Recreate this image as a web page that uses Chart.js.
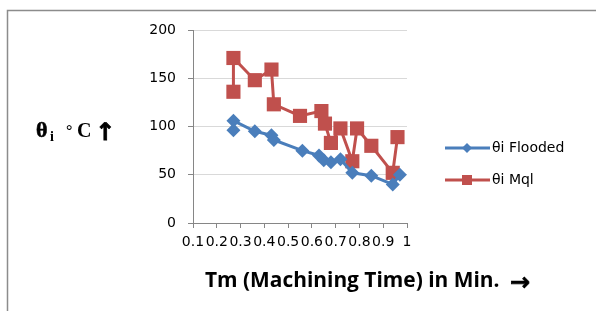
<!DOCTYPE html>
<html>
<head>
<meta charset="utf-8">
<script src="https://cdn.jsdelivr.net/npm/chart.js@4/dist/chart.umd.min.js"></script>
<style>
  html, body { margin: 0; padding: 0; background: #fff; }
  #wrap { width: 596px; height: 311px; position: relative; }
</style>
</head>
<body>
<div id="wrap"><canvas id="chart" width="596" height="311"></canvas></div>
<script>
// Values
const floodedX = [0.27, 0.27, 0.36, 0.43, 0.44, 0.56, 0.63, 0.65, 0.68, 0.72, 0.77, 0.85, 0.94, 0.97];
const floodedY = [96, 106, 95, 91, 86, 75, 70, 65, 63, 66, 52, 49, 40, 50];
const mqlX = [0.27, 0.27, 0.36, 0.43, 0.44, 0.55, 0.64, 0.655, 0.68, 0.72, 0.77, 0.79, 0.85, 0.94, 0.96];
const mqlY = [136, 171, 148, 159, 123, 111, 116, 103, 83, 98, 64, 98, 80, 52, 89];
const seriesNames = ['\u03b8i Flooded', '\u03b8i Mql'];
const xTitle = 'Tm (Machining Time) in Min.';

const BLUE = '#4a7ebb';
const RED = '#c0504d';
const TICK_FONT = { family: 'DejaVu Sans', size: 14 };

function toPoints(xs, ys) {
  return xs.map((x, i) => ({ x: x, y: ys[i] }));
}

// bold text drawn a touch heavier
function heavyText(ctx, text, x, y, extra) {
  ctx.fillText(text, x, y);
  ctx.lineWidth = extra;
  ctx.strokeStyle = ctx.fillStyle;
  ctx.strokeText(text, x, y);
}

// frame, axis titles and legend drawn on the canvas
const decorations = {
  id: 'decorations',
  beforeDraw(chart) {
    const ctx = chart.ctx;
    ctx.save();
    ctx.strokeStyle = '#8c8c8c';
    ctx.lineWidth = 1.5;
    ctx.beginPath();
    ctx.moveTo(7.5, 311);
    ctx.lineTo(7.5, 10.5);
    ctx.lineTo(596, 10.5);
    ctx.stroke();
    ctx.restore();
  },
  afterDraw(chart) {
    const ctx = chart.ctx;
    ctx.save();
    ctx.fillStyle = '#000';
    ctx.textBaseline = 'alphabetic';

    // y title: theta_i ° C ↑
    ctx.font = 'bold 22px "Liberation Serif"';
    heavyText(ctx, '\u03b8', 36, 137, 0.6);
    ctx.font = 'bold 14px "Liberation Serif"';
    ctx.fillText('i', 50, 141);
    ctx.font = 'bold 16px "Liberation Serif"';
    ctx.fillText('\u00b0', 66, 136);
    ctx.font = 'bold 20px "Liberation Serif"';
    ctx.fillText('C', 77, 137);
    ctx.font = 'bold 24px "DejaVu Sans"';
    heavyText(ctx, '\u2191', 95, 140, 0.8);

    // x title
    let size = 17;
    ctx.font = 'bold ' + size + 'px "Open Sans"';
    const w = ctx.measureText(xTitle).width;
    size = size * 295 / w;
    ctx.font = 'bold ' + size.toFixed(1) + 'px "Open Sans"';
    ctx.fillText(xTitle, 205, 287);
    ctx.font = 'bold 24px "DejaVu Sans"';
    heavyText(ctx, '\u2192', 510, 290, 0.8);

    // legend
    chart.data.datasets.forEach((ds, i) => {
      const y = 148 + i * 32;
      ctx.strokeStyle = ds.borderColor;
      ctx.lineWidth = 3;
      ctx.beginPath();
      ctx.moveTo(445, y);
      ctx.lineTo(490, y);
      ctx.stroke();
      ctx.fillStyle = ds.backgroundColor;
      ctx.beginPath();
      if (ds.pointStyle === 'rectRot') {
        ctx.moveTo(467, y - 5);
        ctx.lineTo(472, y);
        ctx.lineTo(467, y + 5);
        ctx.lineTo(462, y);
      } else {
        ctx.rect(462, y - 5, 10, 10);
      }
      ctx.closePath();
      ctx.fill();
      ctx.fillStyle = '#000';
      ctx.font = '14px "DejaVu Sans"';
      ctx.textBaseline = 'middle';
      ctx.fillText(ds.label, 492, y);
      ctx.textBaseline = 'alphabetic';
    });
    ctx.restore();
  }
};

const chart = new Chart(document.getElementById('chart'), {
  type: 'scatter',
  data: {
    datasets: [{
      label: seriesNames[0],
      data: toPoints(floodedX, floodedY),
      showLine: true,
      borderColor: BLUE,
      backgroundColor: BLUE,
      borderWidth: 3,
      pointStyle: 'rectRot',
      pointRadius: 7,
      pointBorderWidth: 0
    }, {
      label: seriesNames[1],
      data: toPoints(mqlX, mqlY),
      showLine: true,
      borderColor: RED,
      backgroundColor: RED,
      borderWidth: 3,
      pointStyle: 'rect',
      pointRadius: 10,
      pointBorderWidth: 0
    }]
  },
  options: {
    responsive: false,
    animation: false,
    events: [],
    layout: { padding: { left: 133, right: 189, top: 30, bottom: 48 } },
    plugins: {
      legend: { display: false },
      tooltip: { enabled: false }
    },
    scales: {
      x: {
        type: 'linear',
        min: 0.1,
        max: 1,
        border: { color: '#868686', width: 1 },
        grid: { drawOnChartArea: false, tickLength: 5, tickColor: '#868686' },
        ticks: {
          stepSize: 0.1,
          autoSkip: false,
          maxRotation: 0,
          minRotation: 0,
          padding: 6,
          color: '#000',
          font: TICK_FONT,
          callback: v => String(Number(v.toFixed(1)))
        },
        afterFit(scale) { scale.height = 40; }
      },
      y: {
        min: 0,
        max: 200,
        border: { color: '#868686', width: 1 },
        grid: { color: '#d9d9d9', tickLength: 5, tickColor: '#868686' },
        ticks: {
          stepSize: 50,
          padding: 12,
          color: '#000',
          font: TICK_FONT
        },
        afterFit(scale) { scale.width = 60; }
      }
    }
  },
  plugins: [decorations]
});
</script>
</body>
</html>
